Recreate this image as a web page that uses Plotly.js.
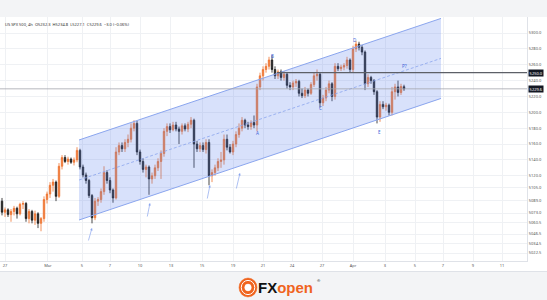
<!DOCTYPE html>
<html><head><meta charset="utf-8">
<script src="https://cdn.plot.ly/plotly-3.0.1.min.js"></script>
<style>html,body{margin:0;padding:0;background:#f3f4f6;} #chart{width:547px;height:300px;}</style>
</head><body><div id="chart"></div>
<script>
// ---- OHLC data (US SPX 500, 4h) ----
const openP = [5088,5074,5077,5071,5075,5079,5072,5084,5085,5066,5075,5064,5072,5060,5066,5090,5097,5108,5112,5094,
5132,5143,5138,5141,5137,5140,5152,5131,5121,5114,5095,5067,5088,5090,5100,5124,5114,5102,5092,5150,
5158,5154,5162,5166,5180,5186,5150,5138,5128,5131,5116,5120,5130,5138,5148,5176,5182,5178,5184,5179,
5176,5183,5179,5185,5190,5160,5154,5158,5153,5162,5120,5124,5130,5138,5140,5166,5156,5150,5160,5172,
5180,5190,5184,5182,5187,5184,5232,5246,5254,5258,5266,5254,5246,5251,5244,5248,5234,5232,5237,5239,
5224,5221,5228,5224,5235,5246,5248,5212,5218,5228,5236,5220,5258,5255,5257,5259,5266,5254,5280,5286,
5282,5276,5236,5244,5240,5226,5194,5210,5207,5209,5200,5226,5232,5225,5232.3];
const highP = [5092,5080,5079,5078,5082,5081,5086,5088,5087,5078,5077,5076,5074,5068,5094,5100,5112,5116,5114,5136,
5146,5146,5144,5143,5143,5156,5154,5134,5124,5116,5097,5092,5093,5104,5132,5127,5118,5104,5156,5162,
5162,5166,5172,5186,5190,5189,5153,5142,5134,5133,5124,5134,5142,5152,5180,5186,5186,5188,5188,5182,
5186,5186,5188,5194,5192,5164,5162,5162,5166,5166,5128,5134,5142,5150,5172,5172,5160,5164,5176,5186,
5194,5192,5188,5190,5196,5236,5250,5258,5262,5270,5272,5258,5254,5254,5252,5250,5238,5240,5242,5241,
5230,5232,5230,5238,5250,5254,5250,5222,5232,5240,5238,5262,5262,5260,5262,5270,5268,5284,5290,5289,
5285,5278,5248,5246,5242,5228,5214,5214,5212,5211,5232,5236,5240,5236,5234.8];
const lowP = [5070,5068,5068,5062,5070,5066,5070,5078,5062,5060,5060,5058,5054,5050,5062,5085,5092,5100,5088,5092,
5128,5136,5134,5135,5133,5137,5128,5118,5110,5092,5060,5064,5082,5086,5096,5110,5098,5086,5090,5146,
5150,5150,5156,5162,5176,5146,5134,5124,5118,5096,5110,5116,5126,5116,5144,5170,5174,5176,5176,5160,
5172,5176,5175,5180,5130,5150,5150,5150,5148,5108,5112,5120,5126,5130,5134,5152,5148,5146,5156,5168,
5176,5180,5178,5178,5180,5176,5228,5240,5250,5254,5250,5242,5242,5240,5240,5230,5228,5228,5232,5220,
5218,5218,5220,5222,5232,5240,5206,5208,5214,5224,5214,5216,5252,5252,5253,5255,5250,5250,5276,5278,
5272,5228,5232,5236,5222,5186,5188,5204,5202,5196,5196,5216,5220,5222,5227.1];
const closeP = [5074,5077,5071,5075,5079,5072,5084,5085,5066,5075,5064,5072,5060,5066,5090,5097,5108,5112,5094,5132,
5143,5138,5141,5137,5140,5152,5131,5121,5114,5095,5067,5088,5090,5100,5124,5114,5102,5092,5150,5158,
5154,5162,5166,5180,5186,5150,5138,5128,5131,5116,5120,5130,5138,5148,5176,5182,5178,5184,5179,5176,
5183,5179,5185,5190,5160,5154,5158,5153,5162,5120,5124,5130,5138,5140,5166,5156,5150,5160,5172,5180,
5190,5184,5182,5187,5184,5232,5246,5254,5258,5266,5254,5246,5251,5244,5248,5234,5232,5237,5239,5224,
5221,5228,5224,5235,5246,5248,5212,5218,5228,5236,5220,5258,5255,5257,5259,5266,5254,5280,5286,5282,
5276,5236,5244,5240,5226,5194,5210,5207,5209,5200,5226,5232,5225,5232.6,5229.6];

// ---- axis ticks ----
const xTickPos  = [1, 15.33, 26.67, 36, 46, 56.33, 66.67, 77, 87, 96.67, 106.67, 117, 127.67, 137.67, 147, 157, 166.67];
const xTickText = ['27','Mar','5','7','10','13','15','19','21','24','27','Apr','3','5','7','9','11'];
const yTickVals = [5300,5280,5260,5240,5220,5200,5180,5160,5140,5120,5105,5089,5073,5060.5,5046.5,5034.5,5022.5];
const yTickText = ['5300.0','5280.0','5260.0','5240.0','5220.0','5200.0','5180.0','5160.0','5140.0','5120.0','5105.0','5089.0','5073.0','5060.5','5046.5','5034.5','5022.5'];

// ---- drawings ----
const channelX = [25.67, 146.33];
const channelUpper = [5165.1, 5318.4];
const channelLower = [5064.2, 5217.5];
const channelMid = [5114.6, 5268.0];
const levelPrice = 5250.0, levelStartX = 91.7;
const lastPrice = 5229.6;
const labelText = ['A','B','C','D','E','P?'];
const labelX = [85, 90, 106.3, 117.7, 125.7, 134.3];
const labelY = [5174, 5271, 5205.4, 5291, 5175, 5258.4];
const arrowHeadX = [30, 49.33, 69.33, 79.33];
const arrowHeadY = [5054.1, 5085.6, 5108.3, 5123.5];
const arrowTailX = [28.67, 48.33, 68.33, 78];
const arrowTailY = [5036.5, 5066.7, 5089.4, 5102];

const idx = closeP.map((_, i) => i);
const blue = '#8aa5ee';
const traces = [
  {type:'scatter', mode:'lines', hoverinfo:'skip',
   x:[channelX[0],channelX[1],channelX[1],channelX[0],channelX[0]],
   y:[channelUpper[0],channelUpper[1],channelLower[1],channelLower[0],channelUpper[0]],
   fill:'toself', fillcolor:'rgba(90,130,240,0.24)', line:{color:'rgba(0,0,0,0)', width:0}},
  {type:'scatter', mode:'lines', hoverinfo:'skip', x:channelX, y:channelUpper, line:{color:blue, width:1}},
  {type:'scatter', mode:'lines', hoverinfo:'skip', x:channelX, y:channelLower, line:{color:blue, width:1}},
  {type:'scatter', mode:'lines', hoverinfo:'skip', x:channelX, y:channelMid,
   line:{color:blue, width:0.8, dash:'3px,2px'}},
  {type:'scatter', mode:'lines', hoverinfo:'skip', x:[-1,176], y:[lastPrice,lastPrice],
   line:{color:'#a3a6ad', width:0.8}},
  {type:'scatter', mode:'lines', hoverinfo:'skip', x:[levelStartX,176], y:[levelPrice,levelPrice],
   line:{color:'#5d6067', width:1.1}},
  {type:'candlestick', x:idx, open:openP, high:highP, low:lowP, close:closeP,
   increasing:{line:{color:'#ef7531', width:0.8}, fillcolor:'#ef7531'},
   decreasing:{line:{color:'#1b1b1b', width:0.8}, fillcolor:'#1b1b1b'},
   whiskerwidth:0, hoverinfo:'skip'}
];

const ann = [];
ann.push({xref:'paper', yref:'paper', x:0.006, y:0.971, xanchor:'left', yanchor:'middle', showarrow:false,
  text:'US SPX 500, 4h  O5232.3  H5234.8  L5227.1  C5229.6  \u22123.0 (\u22120.06%)',
  font:{size:4, color:'#333'}});
for (let k = 0; k < labelText.length; k++) {
  ann.push({x:labelX[k], y:labelY[k], text:labelText[k], showarrow:false, font:{size:4.5, color:'#3d5fd9'}});
}
for (let k = 0; k < arrowHeadX.length; k++) {
  ann.push({x:arrowHeadX[k], y:arrowHeadY[k], ax:arrowTailX[k], ay:arrowTailY[k], axref:'x', ayref:'y',
    text:'', showarrow:true, arrowhead:2, arrowsize:0.7, arrowwidth:0.7, arrowcolor:blue});
}
[[levelPrice,'5250.0'],[lastPrice,'5229.6']].forEach(p => {
  ann.push({xref:'paper', yref:'y', x:1, xshift:1, y:p[0], xanchor:'left', yanchor:'middle', showarrow:false,
    text:p[1], bgcolor:'#131722', font:{size:4, color:'#ffffff'}, borderpad:0.6});
});
ann.push({xref:'paper', yref:'paper', x:0.5418, y:-0.107, xanchor:'center', yanchor:'middle', showarrow:false,
  text:'<b>FX</b><span style="color:#f0641e"><b>open</b></span>',
  font:{family:'Liberation Sans, Arial, sans-serif', size:15, color:'#111'}});
ann.push({xref:'paper', yref:'paper', x:0.598, y:-0.08, xanchor:'left', yanchor:'middle', showarrow:false,
  text:'\u00ae', font:{size:4, color:'#333'}});

const layout = {
  width:547, height:300,
  margin:{l:0, r:20, t:17, b:39, pad:0},
  paper_bgcolor:'#f3f4f6', plot_bgcolor:'#ffffff',
  showlegend:false, hovermode:false,
  font:{family:'Noto Sans, Roboto, sans-serif', size:4, color:'#555'},
  xaxis:{range:[-0.667,175], tickmode:'array', tickvals:xTickPos, ticktext:xTickText,
    showgrid:true, gridcolor:'#eff1f4', gridwidth:1, zeroline:false, rangeslider:{visible:false},
    showline:true, linecolor:'#dfe2e8', linewidth:1, ticks:'', tickfont:{size:4, color:'#555'}},
  yaxis:{side:'right', range:[5012.5,5320.2], tickmode:'array', tickvals:yTickVals, ticktext:yTickText,
    showgrid:true, gridcolor:'#eff1f4', gridwidth:1, zeroline:false,
    showline:true, linecolor:'#dfe2e8', linewidth:1, ticks:'', tickfont:{size:4, color:'#555'}},
  shapes:[
    {type:'rect', xref:'paper', yref:'paper', x0:0, x1:1.04, y0:-0.043, y1:1, fillcolor:'#ffffff', line:{width:0}, layer:'below'},
    {type:'line', xref:'paper', yref:'paper', x0:0, x1:1.04, y0:-0.043, y1:-0.043, line:{color:'#dfe2e8', width:1}},
    {type:'circle', xref:'paper', yref:'paper', x0:0.4535, x1:0.4877, y0:-0.1475, y1:-0.0697, fillcolor:'#f0641e', line:{color:'#f0641e', width:0.5}},
    {type:'circle', xref:'paper', yref:'paper', x0:0.4578, x1:0.4834, y0:-0.1377, y1:-0.0795, fillcolor:'rgba(0,0,0,0)', line:{color:'#ffffff', width:1}},
    {type:'circle', xref:'paper', yref:'paper', x0:0.4644, x1:0.4768, y0:-0.1225, y1:-0.0947, fillcolor:'#ffffff', line:{color:'#ffffff', width:0.5}}
  ],
  annotations:ann
};
Plotly.newPlot('chart', traces, layout, {staticPlot:true, displayModeBar:false});
</script>
</body></html>
